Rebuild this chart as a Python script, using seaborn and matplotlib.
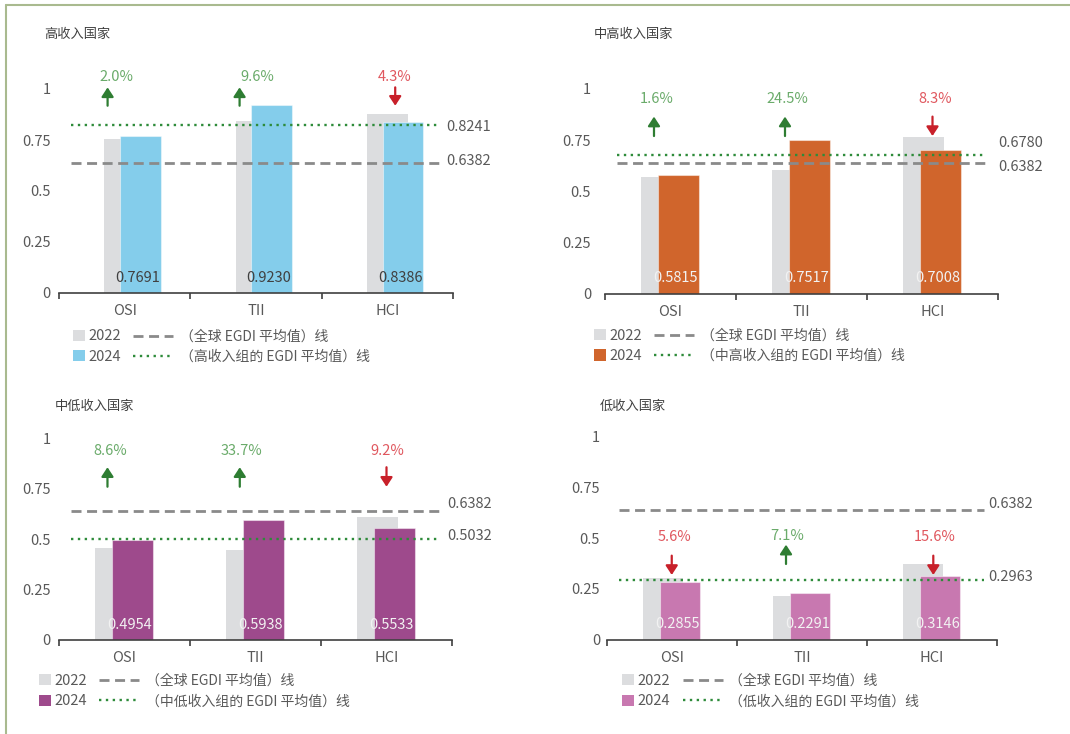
import matplotlib
matplotlib.use('Agg')
import matplotlib.pyplot as plt
from matplotlib.lines import Line2D
from matplotlib.patches import Patch
import seaborn as sns
import pandas as pd

# ---------------- data ----------------
categories = ['OSI', 'TII', 'HCI']
years = ['2022', '2024']
panel_titles = ['高收入国家', '中高收入国家', '中低收入国家', '低收入国家']
group_names = ['高收入组', '中高收入组', '中低收入组', '低收入组']

high_2022 = [0.754, 0.842, 0.876]
high_2024 = [0.7691, 0.9230, 0.8386]
high_change = [2.0, 9.6, -4.3]

uppermid_2022 = [0.572, 0.604, 0.764]
uppermid_2024 = [0.5815, 0.7517, 0.7008]
uppermid_change = [1.6, 24.5, -8.3]

lowermid_2022 = [0.456, 0.444, 0.609]
lowermid_2024 = [0.4954, 0.5938, 0.5533]
lowermid_change = [8.6, 33.7, -9.2]

low_2022 = [0.302, 0.214, 0.373]
low_2024 = [0.2855, 0.2291, 0.3146]
low_change = [-5.6, 7.1, -15.6]

global_avg = 0.6382
group_avg = [0.8241, 0.6780, 0.5032, 0.2963]

y_ticks = [0, 0.25, 0.5, 0.75, 1]
y_tick_labels = ['0', '0.25', '0.5', '0.75', '1']

series_2022 = [high_2022, uppermid_2022, lowermid_2022, low_2022]
series_2024 = [high_2024, uppermid_2024, lowermid_2024, low_2024]
series_change = [high_change, uppermid_change, lowermid_change, low_change]

# ---------------- style ----------------
W, H = 1070, 734
C2022 = '#dcdddf'
C2024 = ['#84cdeb', '#d0652c', '#9e4a8c', '#c878b0']
VAL_COLOR = ['#404040', '#f2f2f2', '#f2f2f2', '#f2f2f2']
TXT = '#595959'
GRAY_LINE = '#8a8a8a'
GREEN_LINE = '#2e8b3a'
UP_ARROW = '#2e7d32'
DOWN_ARROW = '#c8202a'
UP_TXT = '#6aab6a'
DOWN_TXT = '#e0575e'
BAR_W = 0.31

LAYOUT = [
    dict(rect=(59, 89, 453, 293), dx=(0.0, 0.12), pad=6,
         arrow_dx=(-0.13, -0.125, 0.06), text_dx=(-0.06, 0.01, 0.055),
         arrow_lo=(0.918, 0.918, 0.918), arrow_len=0.09, text_y=(1.06, 1.06, 1.06),
         lab_x=2.45, lab_dy=(-0.009, 0.009),
         title=(44, 34), leg=(73, 133, 346.5)),
    dict(rect=(605, 89, 998, 293.5), dx=(-0.07, 0.06), pad=10,
         arrow_dx=(-0.126, -0.126, 0.0), text_dx=(-0.105, -0.111, 0.02),
         arrow_lo=(0.77, 0.77, 0.77), arrow_len=0.095, text_y=(0.953, 0.953, 0.953),
         lab_x=2.5, lab_dy=(0.06, -0.018),
         title=(594, 34), leg=(594, 654, 345.8)),
    dict(rect=(59, 438.7, 452, 639.7), dx=(-0.07, 0.06), pad=6,
         arrow_dx=(-0.13, -0.12, 0.0), text_dx=(-0.107, -0.11, 0.01),
         arrow_lo=(0.761, 0.761, 0.761), arrow_len=0.097, text_y=(0.94, 0.94, 0.94),
         lab_x=2.46, lab_dy=(0.014, 0.036),
         title=(55, 406), leg=(39, 99, 691.2)),
    dict(rect=(607, 436.7, 997, 639.7), dx=(-0.07, 0.06), pad=5,
         arrow_dx=(-0.002, -0.123, 0.01), text_dx=(0.017, -0.114, 0.02),
         arrow_lo=(0.319, 0.373, 0.319), arrow_len=0.095, text_y=(0.508, 0.51, 0.508),
         lab_x=2.43, lab_dy=(0.014, 0.03),
         title=(600, 406), leg=(622, 682.7, 691.2)),
]

sns.set_theme(style='white')
plt.rcParams['font.family'] = ['Noto Sans CJK SC', 'DejaVu Sans']
plt.rcParams['font.weight'] = 'light'
plt.rcParams['axes.unicode_minus'] = False

fig = plt.figure(figsize=(W / 100, H / 100), dpi=100)
fig.patch.set_facecolor('white')

GLOBAL_STYLE = dict(color=GRAY_LINE, lw=2.0, linestyle=(0, (3.6, 2.0)))
GROUP_STYLE = dict(color=GREEN_LINE, lw=1.7, linestyle=(0, (1, 1.9)))

for i in range(4):
    lay = LAYOUT[i]
    l, t, r, b = lay['rect']
    ax = fig.add_axes([l / W, 1 - b / H, (r - l) / W, (b - t) / H])
    ax.set_facecolor('white')

    df22 = pd.DataFrame({'指标': categories, '值': series_2022[i]})
    df24 = pd.DataFrame({'指标': categories, '值': series_2024[i]})

    n0 = len(ax.patches)
    sns.barplot(data=df22, x='指标', y='值', color=C2022, saturation=1,
                width=BAR_W, errorbar=None, ax=ax, zorder=1, linewidth=0)
    for p in ax.patches[n0:]:
        p.set_x(p.get_x() + lay['dx'][0])
    n1 = len(ax.patches)
    sns.barplot(data=df24, x='指标', y='值', color=C2024[i], saturation=1,
                width=BAR_W, errorbar=None, ax=ax, zorder=2,
                edgecolor=(1, 1, 1, 0.45), linewidth=0.8)
    for p in ax.patches[n1:]:
        p.set_x(p.get_x() + lay['dx'][1])

    ax.set_xlim(-0.5, 2.5)
    ax.set_ylim(0, 1)
    x_frac = ((-0.41 + 0.5) / 3, (2.4 + 0.5) / 3)
    ax.axhline(global_avg, xmin=x_frac[0], xmax=x_frac[1], zorder=3, **GLOBAL_STYLE)
    ax.axhline(group_avg[i], xmin=x_frac[0], xmax=x_frac[1], zorder=3, **GROUP_STYLE)

    # reference line labels
    ax.text(lay['lab_x'], group_avg[i] + lay['lab_dy'][0], f'{group_avg[i]:.4f}',
            ha='left', va='center', color=TXT, fontsize=10.5, clip_on=False)
    ax.text(lay['lab_x'], global_avg + lay['lab_dy'][1], f'{global_avg:.4f}',
            ha='left', va='center', color=TXT, fontsize=10.5, clip_on=False)

    # value labels
    for k, v in enumerate(series_2024[i]):
        ax.text(k + lay['dx'][1] - 0.02, 0.075, f'{v:.4f}', ha='center', va='center',
                color=VAL_COLOR[i], fontsize=10.5, zorder=5)

    # change arrows
    for k, c in enumerate(series_change[i]):
        up = c > 0
        lo = lay['arrow_lo'][k]
        hi = lo + lay['arrow_len']
        ax_x = k + lay['arrow_dx'][k]
        tail, tip = (lo, hi) if up else (hi, lo)
        ax.annotate('', xy=(ax_x, tip), xytext=(ax_x, tail), annotation_clip=False,
                    arrowprops=dict(arrowstyle='-|>,head_length=0.55,head_width=0.36',
                                    mutation_scale=10, lw=1.6, shrinkA=0, shrinkB=0,
                                    color=UP_ARROW if up else DOWN_ARROW))
        ax.text(k + lay['text_dx'][k], lay['text_y'][k], f'{abs(c):.1f}%',
                ha='center', va='center', fontsize=10.5,
                color=UP_TXT if up else DOWN_TXT, clip_on=False)

    # axes styling
    for s in ['top', 'right', 'left']:
        ax.spines[s].set_visible(False)
    ax.spines['bottom'].set_color('#404040')
    ax.spines['bottom'].set_linewidth(1.2)
    ax.set_xlabel('')
    ax.set_ylabel('')
    ax.set_xticks(range(len(categories)))
    ax.set_xticklabels(categories)
    ax.set_xticks([-0.5, 0.5, 1.5, 2.5], minor=True)
    ax.tick_params(axis='x', which='major', length=0, pad=8, labelsize=10.5, labelcolor=TXT)
    ax.tick_params(axis='x', which='minor', length=4, width=1.2, color='#404040',
                   direction='out', bottom=True)
    ax.set_yticks(y_ticks)
    ax.set_yticklabels(y_tick_labels)
    ax.tick_params(axis='y', length=0, pad=lay['pad'], labelsize=10.5, labelcolor=TXT)
    ax.grid(False)

    # title
    tx, ty = lay['title']
    fig.text(tx / W, 1 - ty / H, panel_titles[i], ha='left', va='center',
             fontsize=9.5, color='#404040')

    # legends
    lx1, lx2, ly = lay['leg']
    h1 = [Patch(facecolor=C2022, edgecolor='none'), Patch(facecolor=C2024[i], edgecolor='none')]
    leg1 = ax.legend(h1, years, loc='center left', bbox_to_anchor=(lx1 / W, 1 - ly / H),
                     bbox_transform=fig.transFigure, frameon=False, borderpad=0,
                     borderaxespad=0, handlelength=0.8, handleheight=0.8,
                     handletextpad=0.25, labelspacing=0.45, fontsize=10.5, labelcolor=TXT)
    ax.add_artist(leg1)
    h2 = [Line2D([0], [0], **GLOBAL_STYLE), Line2D([0], [0], **GROUP_STYLE)]
    labels2 = ['（全球 EGDI 平均值）线', f'（{group_names[i]}的 EGDI 平均值）线']
    ax.legend(h2, labels2, loc='center left', bbox_to_anchor=(lx2 / W, 1 - ly / H),
              bbox_transform=fig.transFigure, frameon=False, borderpad=0,
              borderaxespad=0, handlelength=2.9, handletextpad=0.45,
              labelspacing=0.45, fontsize=10, labelcolor=TXT)

# frame lines
BORDER = '#a9ba8f'
fig.add_artist(Line2D([5.5 / W, 1], [1 - 5 / H, 1 - 5 / H], transform=fig.transFigure,
                      color=BORDER, lw=1.5))
fig.add_artist(Line2D([5.5 / W, 5.5 / W], [0, 1 - 5 / H], transform=fig.transFigure,
                      color=BORDER, lw=1.5))

fig.savefig('out.png', dpi=100, facecolor='white')
